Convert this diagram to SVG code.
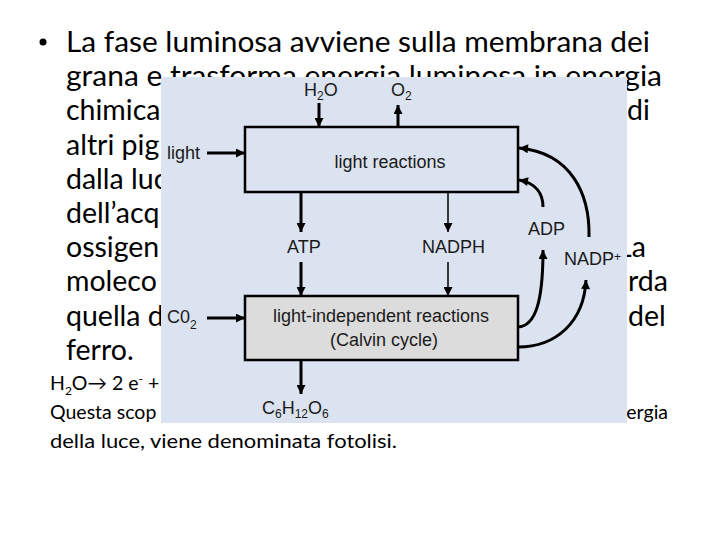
<svg xmlns="http://www.w3.org/2000/svg" width="720" height="540" viewBox="0 0 720 540">
<style>
.slide{font-family:Lato,"Open Sans","Liberation Sans",sans-serif;font-size:28.5px;fill:#000}
.small{font-family:Lato,"Open Sans","Liberation Sans",sans-serif;font-size:19.5px;fill:#000}
.lbl{font-family:"Liberation Sans",Arial,sans-serif;font-size:18px;fill:#1a1a1a}
.sub{font-size:12px}
.box{stroke:#000;stroke-width:2.5}
.thick{stroke:#000;stroke-width:3;fill:none}
.thin{stroke:#000;stroke-width:1.5;fill:none}
</style>
<defs>
<marker id="ah" viewBox="0 0 10 10" refX="10" refY="5" markerWidth="11" markerHeight="9" markerUnits="userSpaceOnUse" orient="auto">
<path d="M0,0 L10,5 L0,10 Z" fill="#000"/>
</marker>
</defs>
<rect width="720" height="540" fill="#fff"/>
<g id="slide-text">
<circle cx="43" cy="42" r="3.5" fill="#000"/>
<text class="slide" x="66" y="52" textLength="584" lengthAdjust="spacingAndGlyphs">La fase luminosa avviene sulla membrana dei</text>
<text class="slide" x="66" y="86" textLength="596" lengthAdjust="spacingAndGlyphs">grana e trasforma energia luminosa in energia</text>
<text class="slide" x="66" y="120">chimica</text>
<text class="slide" x="627" y="120">di</text>
<text class="slide" x="66" y="155">altri pig</text>
<text class="slide" x="66" y="189">dalla luc</text>
<text class="slide" x="66" y="223">dell’acq</text>
<text class="slide" x="66" y="257">ossigen</text>
<text class="slide" x="617" y="257">La</text>
<text class="slide" x="66" y="291">moleco</text>
<text class="slide" x="628" y="291">rda</text>
<text class="slide" x="66" y="326">quella d</text>
<text class="slide" x="628" y="326">del</text>
<text class="slide" x="66" y="360">ferro.</text>
<text class="small" x="50" y="390">H<tspan class="sub" dy="5">2</tspan><tspan dy="-5">O→ 2 e</tspan><tspan class="sub" dy="-7">-</tspan><tspan dy="7"> +</tspan></text>
<text class="small" x="50" y="419">Questa scop</text>
<text class="small" x="668" y="419" text-anchor="end">energia</text>
<text class="small" x="50" y="448" textLength="347" lengthAdjust="spacingAndGlyphs">della luce, viene denominata fotolisi.</text>
</g>
<rect id="panel" x="161" y="77" width="466" height="346" fill="#dae3ef"/>
<g id="light-reactions">
<rect class="box" x="245" y="127" width="273" height="65" fill="#dae3ef"/>
<text class="lbl" x="390" y="168" text-anchor="middle">light reactions</text>
</g>
<g id="calvin">
<rect class="box" x="245" y="296" width="273" height="64" fill="#dcdcdc"/>
<text class="lbl" x="381" y="322" text-anchor="middle">light-independent reactions</text>
<text class="lbl" x="384" y="346" text-anchor="middle">(Calvin cycle)</text>
</g>
<g id="labels">
<text class="lbl" x="304" y="96">H<tspan class="sub" dy="4">2</tspan><tspan dy="-4">O</tspan></text>
<text class="lbl" x="391" y="96">O<tspan class="sub" dy="4">2</tspan></text>
<text class="lbl" x="167" y="159">light</text>
<text class="lbl" x="287" y="253">ATP</text>
<text class="lbl" x="422" y="253">NADPH</text>
<text class="lbl" x="528" y="235">ADP</text>
<text class="lbl" x="564" y="265">NADP<tspan class="sub" dy="-4">+</tspan></text>
<text class="lbl" x="167" y="323">C0<tspan class="sub" dy="6">2</tspan></text>
<text class="lbl" x="262" y="414">C<tspan class="sub" dy="4">6</tspan><tspan dy="-4">H</tspan><tspan class="sub" dy="4">12</tspan><tspan dy="-4">O</tspan><tspan class="sub" dy="4">6</tspan></text>
</g>
<g id="connectors">
<line class="thick" x1="319" y1="103" x2="319" y2="127" marker-end="url(#ah)"/>
<line class="thick" x1="398" y1="127" x2="398" y2="105" marker-end="url(#ah)"/>
<line class="thick" x1="207" y1="153" x2="245" y2="153" marker-end="url(#ah)"/>
<line class="thick" x1="301" y1="192" x2="301" y2="232" marker-end="url(#ah)"/>
<line class="thick" x1="301" y1="262" x2="301" y2="296" marker-end="url(#ah)"/>
<line class="thin" x1="448" y1="192" x2="448" y2="232" marker-end="url(#ah)"/>
<line class="thin" x1="448" y1="262" x2="448" y2="296" marker-end="url(#ah)"/>
<line class="thick" x1="207" y1="318" x2="245" y2="318" marker-end="url(#ah)"/>
<line class="thick" x1="301" y1="360" x2="301" y2="394" marker-end="url(#ah)"/>
<path class="thick" d="M518,327 C536,326 543,300 543,250" marker-end="url(#ah)"/>
<path class="thick" d="M518,347 C556,347 584,322 586,280" marker-end="url(#ah)"/>
<path class="thick" d="M543,207 C543,194 536,183 519,180" marker-end="url(#ah)"/>
<path class="thick" d="M589,237 C590,195 572,153 519,148" marker-end="url(#ah)"/>
</g>
</svg>
